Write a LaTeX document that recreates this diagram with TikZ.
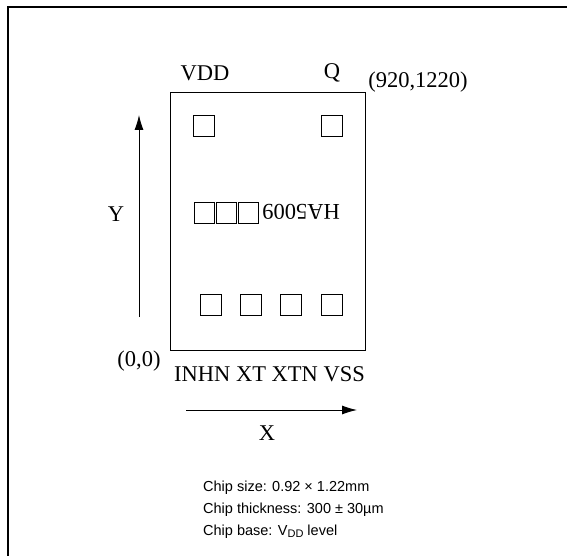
\documentclass[tikz,border=0pt]{standalone}
\usepackage{fontspec}
\setmainfont{Liberation Serif}
\newfontfamily\chipsans{Liberation Sans}
\usetikzlibrary{arrows.meta,positioning}
\tikzset{
  pad/.style={draw, minimum size=21pt, inner sep=0pt, line width=0.9pt},
  lbl/.style={font=\fontsize{22.5}{24}\selectfont, inner sep=0pt},
  axis/.style={line width=0.9pt, -{Latex[length=15pt,width=9pt]}},
}
\begin{document}
\begin{tikzpicture}[x=1pt,y=-1pt]
\useasboundingbox (0,0) rectangle (567,556);
%рамка
\draw[line width=1.5pt] (8,556) -- (8,7) -- (567,7);
%кристалл
\node[draw, line width=0.9pt, minimum width=195pt, minimum height=258pt, inner sep=0pt] (chip) at (267.5,221) {};
\node[pad] (vdd) at (203.5,125.5) {};
\node[pad] (q) at (332,125.5) {};
\node[pad] (inhn) at (210.5,305) {};
\node[pad] (xt) at (251,305) {};
\node[pad] (xtn) at (291,305) {};
\node[pad] (vss) at (332,305) {};
%маркировка
\node[draw, line width=0.8pt, minimum width=20pt, minimum height=21pt, inner sep=0pt] (m1) at (204,212.5) {};
\node[draw, line width=0.8pt, minimum width=20pt, minimum height=21pt, inner sep=0pt, right=1.5pt of m1] (m2) {};
\node[draw, line width=0.8pt, minimum width=20pt, minimum height=21pt, inner sep=0pt, right=1.5pt of m2] (m3) {};
\node[lbl, rotate=180] (mark) at (301,212) {HA5009};
%подписи
\node[lbl] (lvdd) at (205,73) {VDD};
\node[lbl] (lq) at (332,73) {Q};
\node[lbl] (ltop) at (418,82) {(920,1220)};
\node[lbl] (lorig) at (139,361) {(0,0)};
\node[lbl] (lbot) at (269.5,374) {INHN XT XTN VSS};
%оси
\coordinate (x0) at (186,410);
\coordinate (x1) at (357,410);
\coordinate (y0) at (139,317);
\coordinate (y1) at (139,115);
\draw[axis] (x0) -- (x1);
\draw[axis] (y0) -- (y1);
\node[lbl] (lx) at (267,433) {X};
\node[lbl] (ly) at (116,214) {Y};
\node[anchor=base west, inner sep=0pt, align=left, font=\chipsans\fontsize{14.5}{22}\selectfont] (info) at (203,535)
  {Chip size: 0.92 × 1.22mm\\Chip thickness: 300 ± 30µm\\Chip base: V\raisebox{-0.35ex}{\fontsize{11}{11}\selectfont DD} level};
\end{tikzpicture}
\end{document}
